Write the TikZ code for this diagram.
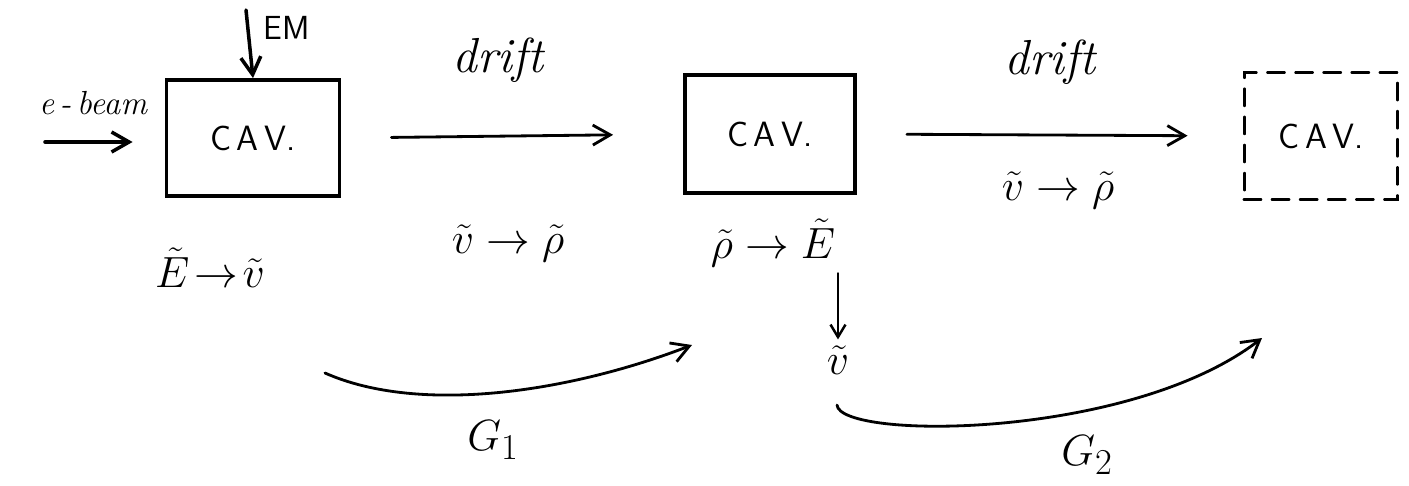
\documentclass[tikz,border=0pt]{standalone}
\usetikzlibrary{arrows.meta}
\begin{document}
\begin{tikzpicture}[x=0.02cm, y=-0.02cm, line cap=round,
    >={Straight Barb[length=3.5mm, width=4mm]},
    cav/.style={draw, line width=2.2pt, inner sep=0pt,
      font=\fontsize{20}{24}\selectfont\sffamily},
    lbl/.style={font=\fontsize{28}{32}\selectfont},
    flecha/.style={->, line width=1.6pt}]
    \useasboundingbox (0,0) rectangle (1409,485);

    % Cavidades
    \node[cav, minimum width=3.46cm, minimum height=2.32cm] (cav1) at (253,138) {C\,A\,V.};
    \node[cav, minimum width=3.4cm, minimum height=2.36cm] (cav2) at (770,134) {C\,A\,V.};
    \node[cav, dashed, dash pattern=on 9pt off 7pt, minimum width=3.06cm,
      minimum height=2.54cm] (cav3) at (1321,136) {C\,A\,V.};

    % Entradas
    \node[font=\fontsize{19}{22}\selectfont\itshape] (ebeam) at (93,103) {e\,-\,beam};
    \coordinate (eb) at (45,142);
    \draw[flecha, line width=2pt] (eb) -- (eb -| cav1.west) [shorten >=0.64cm];
    \node[font=\fontsize{19}{22}\selectfont\sffamily] (em) at (287,28) {EM};
    \coordinate (emtop) at (246,10);
    \draw[flecha, line width=2pt] (emtop) -- (cav1.north);

    % Deriva
    \node[font=\fontsize{28}{32}\selectfont\itshape] (drift1) at (498,60) {drift};
    \node[font=\fontsize{28}{32}\selectfont\itshape] (drift2) at (1050,62) {drift};
    \draw[flecha, shorten <=1cm, shorten >=1.4cm] (cav1.east) -- (cav2.west);
    \draw[flecha, shorten <=1cm, shorten >=1.1cm] (cav2.east) -- (cav3.west);

    % Transformaciones
    \node[lbl] (Ev1) at (210,268) {$\tilde{E}\!\to\!\tilde{v}$};
    \node[lbl] (vr1) at (508,243) {$\tilde{v} \to \tilde{\rho}$};
    \node[lbl] (rE2) at (773,243) {$\tilde{\rho} \to \tilde{E}$};
    \node[lbl] (vr2) at (1058,190) {$\tilde{v} \to \tilde{\rho}$};
    \node[lbl] (v2) at (838,360) {$\tilde{v}$};
    \draw[->, line width=1.4pt, >={Straight Barb[length=2.5mm, width=3mm]}]
      (rE2.south -| v2.north) -- (v2.north);

    % Ganancias
    \coordinate (g1a) at (325,373);
    \coordinate (g1b) at (692,345);
    \draw[flecha] (g1a) .. controls (420,415) and (570,392) .. (g1b);
    \node[lbl] (G1) at (493,440) {$G_1$};
    \coordinate (g2a) at (837,405);
    \coordinate (g2b) at (1262,338);
    \draw[flecha] (g2a) .. controls (840,440) and (1130,440) .. (g2b);
    \node[lbl] (G2) at (1087,455) {$G_2$};
\end{tikzpicture}
\end{document}
